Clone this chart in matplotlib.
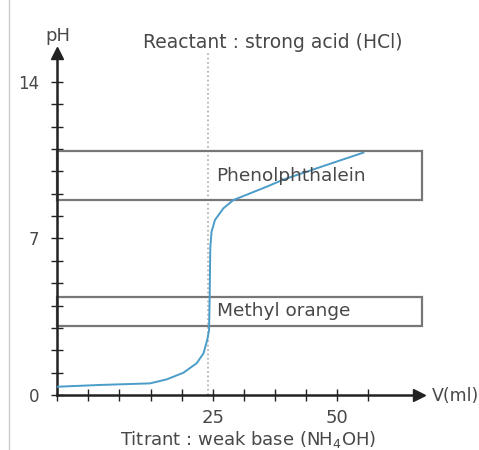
"""Titration curve: strong acid (HCl) titrated with weak base (NH4OH),
with the indicator ranges of phenolphthalein and methyl orange."""
import matplotlib.pyplot as plt
from matplotlib.patches import Rectangle
from matplotlib.lines import Line2D

vol = [0, 6.9, 14.9, 17.6, 20.3, 22.4, 23.5, 24.1, 24.4, 24.5, 24.55, 24.6,
       24.8, 25.35, 26.7, 28.3, 31.0, 33.7, 36.4, 41.7, 49.2]
ph = [0.37, 0.45, 0.52, 0.7, 1.0, 1.42, 1.86, 2.46, 2.9, 4.4, 5.6, 6.6,
      7.3, 7.83, 8.35, 8.72, 9.02, 9.32, 9.64, 10.14, 10.84]

indicators = ['Phenolphthalein', 'Methyl orange']
ind_lo = [8.7, 3.1]
ind_hi = [10.9, 4.4]
ind_vmax = 58.7
equiv_v = 24.3

ytick_vals = list(range(0, 15))
ytick_txt = ['0', '', '', '', '', '', '', '7', '', '', '', '', '', '', '14']
xtick_vals = list(range(0, 51, 5))
xtick_txt = ['', '', '', '', '', '25', '', '', '', '50', '']

txt = '#484848'
plt.rcParams['font.family'] = 'DejaVu Sans'

fig = plt.figure(figsize=(4.79, 4.5), dpi=100)
ax = fig.add_axes([0.1196, 0.1222, 0.7558, 0.7602])
ax.set_xlim(0, 58.2)
ax.set_ylim(0, 15.3)

for s in ['top', 'right']:
    ax.spines[s].set_visible(False)
for s in ['left', 'bottom']:
    ax.spines[s].set_linewidth(1.8)
    ax.spines[s].set_color('#222222')

ax.set_yticks(ytick_vals)
ax.set_yticklabels(ytick_txt)
ax.set_xticks(xtick_vals)
ax.set_xticklabels(xtick_txt)
ax.tick_params(direction='inout', length=8, width=1, color='#222222',
               labelcolor=txt)
ax.tick_params(axis='y', pad=9, labelsize=12)
ax.tick_params(axis='x', pad=6, labelsize=13)

# arrow heads
ax.plot(1, 0, '>', color='#222222', ms=8, transform=ax.get_yaxis_transform(), clip_on=False)
ax.plot(0, 1, '^', color='#222222', ms=8, transform=ax.get_xaxis_transform(), clip_on=False)

ax.axvline(equiv_v, ymin=0, ymax=1, color='#aaaaaa', ls=':', lw=1.2, zorder=1)

for name, lo, hi in zip(indicators, ind_lo, ind_hi):
    ax.add_patch(Rectangle((0, lo), ind_vmax, hi - lo, fill=False,
                           edgecolor='#777777', lw=1.6, clip_on=False, zorder=2))
    ax.text(25.6, (lo + hi) / 2, name, fontsize=13.3, color=txt,
            va='center', ha='left', zorder=4)

ax.plot(vol, ph, color='#4a9cc9', lw=1.4, zorder=3)

fig.text(58 / 479, 1 - 36 / 450, 'pH', fontsize=13, color=txt, ha='center', va='center')
fig.text(432 / 479, 1 - 396 / 450, 'V(ml)', fontsize=12.5, color=txt, ha='left', va='center')
fig.text(273 / 479, 1 - 43 / 450, 'Reactant : strong acid (HCl)', fontsize=13.5,
         color=txt, ha='center', va='center')
fig.text(248 / 479, 1 - 439 / 450, 'Titrant : weak base (NH$_4$OH)', fontsize=13,
         color=txt, ha='center', va='center')
fig.add_artist(Line2D([9 / 479, 9 / 479], [0, 1], color='#cccccc', lw=1))

fig.savefig('out.png', dpi=100)
